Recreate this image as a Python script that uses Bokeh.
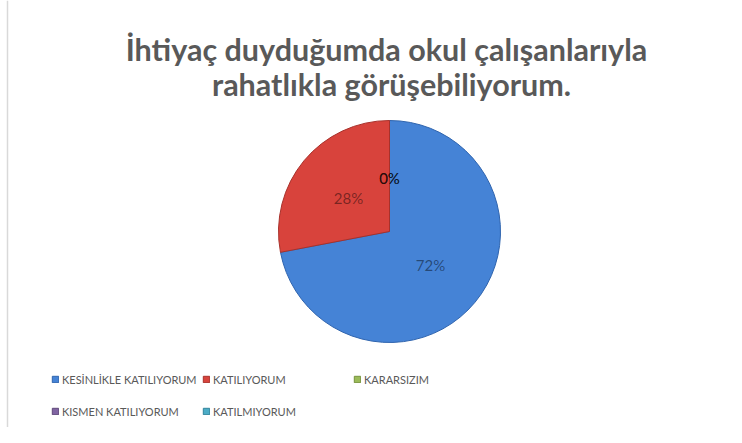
import math
from bokeh.plotting import figure
from bokeh.models import ColumnDataSource, Range1d, Legend, LegendItem, Label, Span
from bokeh.embed import file_html
from bokeh.resources import INLINE

title_lines = ["İhtiyaç duyduğumda okul çalışanlarıyla", "rahatlıkla görüşebiliyorum."]
categories = ["KESİNLİKLE KATILIYORUM", "KATILIYORUM", "KARARSIZIM",
              "KISMEN KATILIYORUM", "KATILMIYORUM"]
values = [72, 28, 0, 0, 0]
colors = ["#4583D6", "#D8433C", "#9BBB59", "#8064A2", "#4BACC6"]
edge_colors = ["#2F64AE", "#A8312B", "#76923C", "#5F497A", "#31849B"]

W, H = 726, 427
cx, cy, R = 389, 196, 111

total = sum(values)
starts, ends, mids = [], [], []
cum = 0.0
for v in values:
    f0 = cum / total
    cum += v
    f1 = cum / total
    starts.append(math.pi / 2 - 2 * math.pi * f0)
    ends.append(math.pi / 2 - 2 * math.pi * f1)
    mids.append((f0 + f1) / 2)

keep = [i for i, v in enumerate(values) if v > 0]
pie_src = ColumnDataSource(dict(
    cat=[categories[i] for i in keep],
    color=[colors[i] for i in keep],
    edge=[edge_colors[i] for i in keep],
    start=[starts[i] for i in keep],
    end=[ends[i] for i in keep],
    x=[cx] * len(keep), y=[cy] * len(keep),
))

lab_r = 0.48 * R
lab_src = ColumnDataSource(dict(
    x=[cx + lab_r * math.sin(2 * math.pi * m) for m in mids],
    y=[cy + lab_r * math.cos(2 * math.pi * m) for m in mids],
    text=[f"{round(v / total * 100)}%" for v in values],
))

p = figure(width=W, height=H, output_backend="svg", toolbar_location=None,
           x_range=Range1d(0, W), y_range=Range1d(0, H),
           min_border=0, min_border_left=0, min_border_right=0,
           min_border_top=0, min_border_bottom=0)
p.axis.visible = False
p.grid.visible = False
p.outline_line_color = None
p.background_fill_color = "white"
p.border_fill_color = "white"

# chart frame (left edge visible)
p.add_layout(Span(location=7, dimension="height", line_color="#D9D9D9", line_width=1.5))

p.wedge(x="x", y="y", radius=R, start_angle="start", end_angle="end",
        direction="clock", fill_color="color", line_color="edge",
        line_width=1, source=pie_src)

p.text(x="x", y="y", text="text", source=lab_src, text_align="center",
       text_baseline="middle", text_font_size="15px", text_color="black",
       text_alpha=0.45, text_font={"value": "Lato"})

for line, ty, tx in zip(title_lines, [379, 344], [386, 391]):
    p.add_layout(Label(x=tx, y=ty, text=line, text_align="center",
                       text_baseline="alphabetic", text_font="Lato",
                       text_font_style="bold", text_font_size="30.5px",
                       text_color="#595959"))

# legend swatches: zero-radius proxies at the pie centre (draw nothing themselves)
items = []
for c, col, ec in zip(categories, colors, edge_colors):
    rr = p.wedge(x=[cx], y=[cy], radius=0, start_angle=0, end_angle=1,
                 fill_color=col, line_color=ec, line_width=1)
    items.append(LegendItem(label=c, renderers=[rr]))

legend = Legend(items=items, ncols=3, orientation="horizontal",
                location=(51, 2), padding=0, margin=0,
                border_line_color=None, background_fill_alpha=0,
                label_text_font="Lato", label_text_font_size="11px",
                label_text_color="#595959", glyph_width=8, glyph_height=8,
                label_standoff=3, label_width=136, label_height=28, spacing=4)
p.add_layout(legend)

open("out.html", "w").write(file_html(p, INLINE))
